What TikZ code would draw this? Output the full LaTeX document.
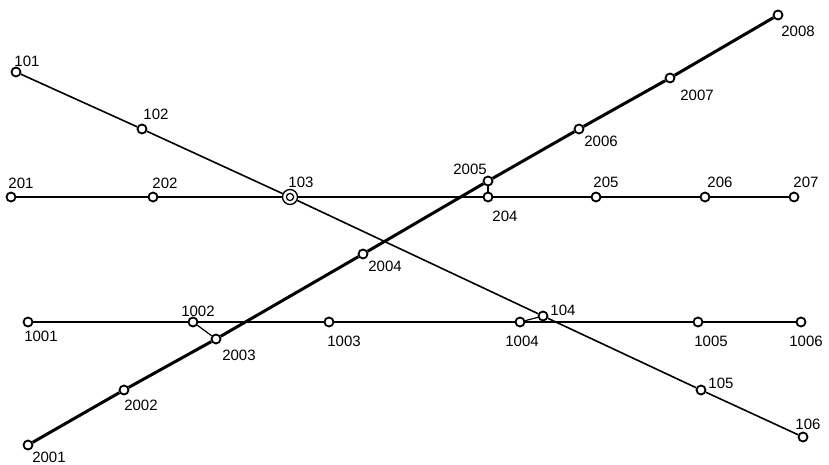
\documentclass[tikz,border=0pt]{standalone}
\usepackage{fontspec}
\setmainfont{Liberation Sans}
\begin{document}
\begin{tikzpicture}[x=1pt,y=-1pt,
  stn/.style={circle,draw,fill=white,inner sep=0pt,minimum size=9pt,line width=1.8pt},
  hub/.style={circle,draw,fill=white,inner sep=0pt,minimum size=15pt,line width=1.3pt},
  lbl/.style={inner sep=0pt,font=\fontsize{15}{15}\selectfont},
  lineA/.style={line width=1.6pt},
  lineB/.style={line width=1.1pt},
  lineK/.style={line width=2.6pt},
  lineT/.style={line width=3pt},
  link/.style={line width=1.2pt}]
\useasboundingbox (0,0) rectangle (829,465);

% route 200 (thin horizontal)
\node[hub] (n103) at (290,197) {};
\node[stn] (n201) at (11,197) {};
\node[stn] (n202) at (153,197) {};
\node[stn] (n204) at (488,197) {};
\node[stn] (n205) at (596,197) {};
\node[stn] (n206) at (705,197) {};
\node[stn] (n207) at (794,197) {};
\draw[lineB] (n201) -- (n202) -- (n103) -- (n204) -- (n205) -- (n206) -- (n207);

% route 100 (diagonal down)
\node[stn] (n101) at (16,72) {};
\node[stn] (n102) at (142,129) {};
\node[stn] (n104) at (543,316) {};
\node[stn] (n105) at (701,390) {};
\node[stn] (n106) at (803,437) {};
\draw[lineA] (n101) -- (n102) -- (n103) -- (n104) -- (n105) -- (n106);
\draw[line width=1.2pt] (n103) circle (3.6pt);

% route 1000 (thick horizontal)
\node[stn] (n1001) at (28,322) {};
\node[stn] (n1002) at (193,322) {};
\node[stn] (n1003) at (329,322) {};
\node[stn] (n1004) at (520,322) {};
\node[stn] (n1005) at (698,322) {};
\node[stn] (n1006) at (801,322) {};
\draw[lineK] (n1001) -- (n1002) -- (n1003) -- (n1004) -- (n1005) -- (n1006);

% route 2000 (thick diagonal up)
\node[stn] (n2001) at (28,445) {};
\node[stn] (n2002) at (124,390) {};
\node[stn] (n2003) at (216,339) {};
\node[stn] (n2004) at (363,254) {};
\node[stn] (n2005) at (488,181) {};
\node[stn] (n2006) at (579,129) {};
\node[stn] (n2007) at (670,78) {};
\node[stn] (n2008) at (778,15) {};
\draw[lineT] (n2001) -- (n2002) -- (n2003) -- (n2004) -- (n2005) -- (n2006) -- (n2007) -- (n2008);

% transfer links
\draw[link] (n1002) -- (n2003);
\draw[link] (n1004) -- (n104);
\draw[link] (n2005) -- (n204);

% labels
\node[lbl] (l101) at (27,61) {101};
\node[lbl] (l102) at (156,114) {102};
\node[lbl] (l103) at (301,182) {103};
\node[lbl] (l104) at (563,310) {104};
\node[lbl] (l105) at (721,383) {105};
\node[lbl] (l106) at (808,424) {106};
\node[lbl] (l201) at (21,183) {201};
\node[lbl] (l202) at (165,183) {202};
\node[lbl] (l204) at (505,216) {204};
\node[lbl] (l205) at (606,182) {205};
\node[lbl] (l206) at (720,182) {206};
\node[lbl] (l207) at (806,182) {207};
\node[lbl] (l1001) at (41,336) {1001};
\node[lbl] (l1002) at (198,311) {1002};
\node[lbl] (l1003) at (344,341) {1003};
\node[lbl] (l1004) at (522,341) {1004};
\node[lbl] (l1005) at (711,341) {1005};
\node[lbl] (l1006) at (806,341) {1006};
\node[lbl] (l2001) at (49,457) {2001};
\node[lbl] (l2002) at (141,405) {2002};
\node[lbl] (l2003) at (239,355) {2003};
\node[lbl] (l2004) at (385,266) {2004};
\node[lbl] (l2005) at (470,169) {2005};
\node[lbl] (l2006) at (601,141) {2006};
\node[lbl] (l2007) at (697,95) {2007};
\node[lbl] (l2008) at (798,31) {2008};
\end{tikzpicture}
\end{document}
